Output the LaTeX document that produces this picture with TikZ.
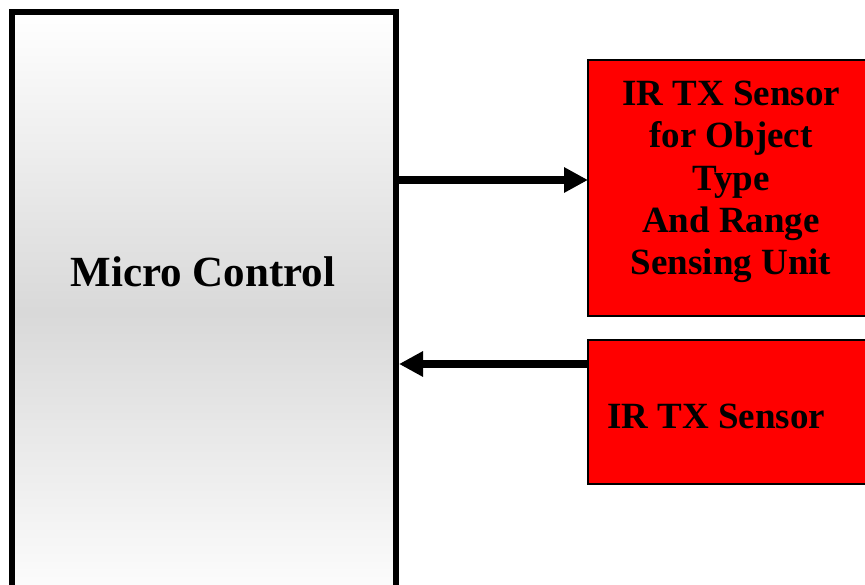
\documentclass[tikz,border=0pt]{standalone}
\usepackage{fontspec}
\setmainfont{Liberation Serif}
\usetikzlibrary{positioning}
\usetikzlibrary{arrows.meta}
\tikzset{
    mcbox/.style = {rectangle, line width=6pt, draw=black, outer sep=0pt, anchor=north west,
                    minimum width=384pt, minimum height=600pt,
                    top color=white, bottom color=white, middle color=black!15},
    irbox/.style = {rectangle, line width=2.5pt, draw=black, fill=red, outer sep=0pt, anchor=north west,
                    minimum width=290pt},
    bigtext/.style = {inner sep=0pt, font=\bfseries\fontsize{43}{50}\selectfont},
    irtext/.style = {inner sep=0pt, align=center, font=\bfseries\fontsize{37}{42.3}\selectfont},
    edgen/.style = {line width=8pt, -{Triangle[length=24pt,width=24pt]}}
}
\begin{document}
\begin{tikzpicture}[x=1pt,y=-1pt]
\useasboundingbox (0,0) rectangle (865,585);
%
\node[mcbox] at (12,12) (mc) {};
\node[irbox, minimum height=256pt] at (588,60) (ir1) {};
\node[irbox, minimum height=144pt] at (588,340) (ir2) {};
%
\node[bigtext, anchor=base] at (203,287) (mctext) {Micro Control};
\node[irtext, anchor=north] at (731,81) (ir1text) {IR TX Sensor\\for Object\\Type\\And Range\\Sensing Unit};
\node[irtext, anchor=base] at (716,428) (ir2text) {IR TX Sensor};
%
\draw[edgen] (mc.east |- 0,180) -- (ir1.west |- 0,180);
\draw[edgen] (ir2.west |- 0,364) -- ([xshift=3pt]mc.east |- 0,364);
\end{tikzpicture}
\end{document}
